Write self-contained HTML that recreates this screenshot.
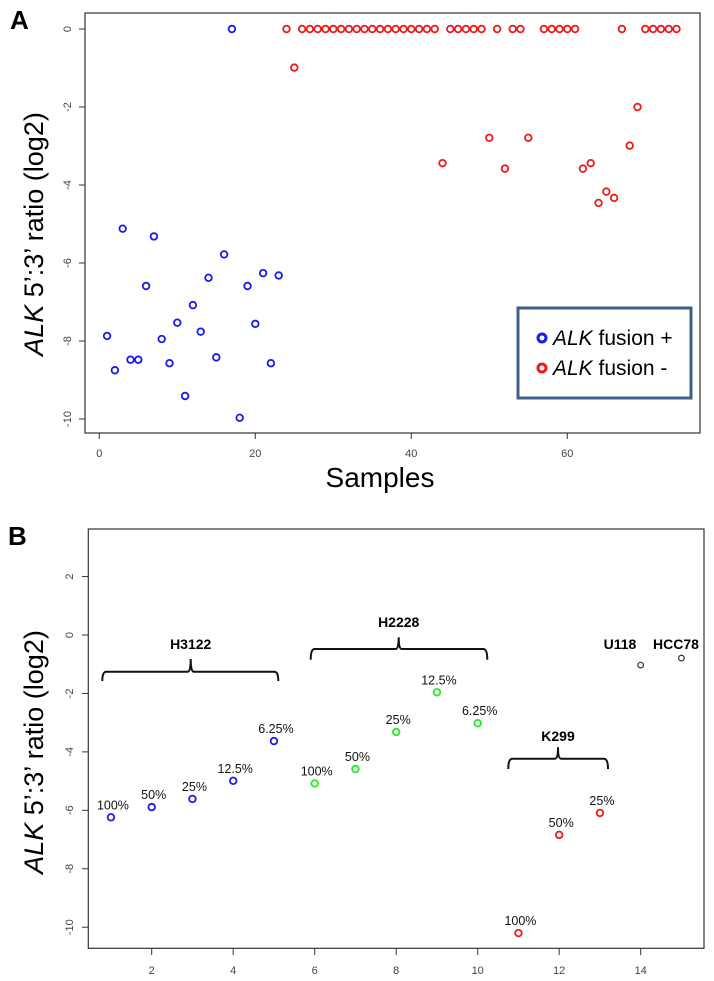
<!DOCTYPE html>
<html><head><meta charset="utf-8"><style>
html,body{margin:0;padding:0;background:#fff;width:714px;height:981px;overflow:hidden}
svg{display:block}
</style></head><body>
<svg id="fig" width="714" height="981" xmlns="http://www.w3.org/2000/svg" font-family="Liberation Sans, sans-serif"></svg>
<script>
// Panel A data
const aPosX = [1,2,3,4,5,6,7,8,9,10,11,12,13,14,15,16,17,18,19,20,21,22,23];
const aPosY = [-7.87,-8.75,-5.12,-8.48,-8.48,-6.59,-5.32,-7.95,-8.57,-7.53,-9.41,-7.08,-7.76,-6.38,-8.42,-5.78,0,-9.97,-6.59,-7.56,-6.26,-8.57,-6.32];
const aNegX = [24,25,26,27,28,29,30,31,32,33,34,35,36,37,38,39,40,41,42,43,44,45,46,47,48,49,50,51,52,53,54,55,57,58,59,60,61,62,63,64,65,66,67,68,69,70,71,72,73,74];
const aNegY = [0,-0.99,0,0,0,0,0,0,0,0,0,0,0,0,0,0,0,0,0,0,-3.44,0,0,0,0,0,-2.79,0,-3.58,0,0,-2.79,0,0,0,0,0,-3.58,-3.44,-4.46,-4.17,-4.33,0,-2.99,-2.0,0,0,0,0,0];
const aYTicks = [0,-2,-4,-6,-8,-10];
const aXTicks = [0,20,40,60];
// Panel B data
const bX = [1,2,3,4,5,6,7,8,9,10,11,12,13,14,15];
const bY = [-6.24,-5.89,-5.61,-4.99,-3.63,-5.08,-4.59,-3.32,-1.96,-3.02,-10.2,-6.84,-6.09,-1.03,-0.79];
const bLabels = ["100%","50%","25%","12.5%","6.25%","100%","50%","25%","12.5%","6.25%","100%","50%","25%","",""];
const bGroup = ["H3122","H3122","H3122","H3122","H3122","H2228","H2228","H2228","H2228","H2228","K299","K299","K299","U118","HCC78"];
const bYTicks = [2,0,-2,-4,-6,-8,-10];
const bXTicks = [2,4,6,8,10,12,14];

const NS = "http://www.w3.org/2000/svg";
const svg = document.getElementById('fig');
function mk(tag, attrs, parent, text){
  const e = document.createElementNS(NS, tag);
  for (const k in attrs) e.setAttribute(k, attrs[k]);
  if (text !== undefined) e.textContent = text;
  (parent||svg).appendChild(e);
  return e;
}
// scales
const axA = v => 99.3 + v*7.8;
const ayA = v => 29 - v*39;
const axB = v => 70.2 + v*40.75;
const ayB = v => 635 - v*29.22;

// ===== Panel A =====
const gA = mk('g', {});


let t = mk('text', {x:10, y:29, 'font-size':26, 'font-weight':'bold'}, gA, 'A');


let r = mk('rect', {x:85, y:13, width:615, height:420, fill:'none', stroke:'#333', 'stroke-width':1.2}, gA);


aYTicks.forEach(v => {
  const y = ayA(v);
  mk('line', {x1:79, y1:y, x2:85, y2:y, stroke:'#333'}, gA);
  const tl = mk('text', {x:0, y:0, 'font-size':11, fill:'#444', 'text-anchor':'middle', transform:`translate(71,${y}) rotate(-90)`}, gA, String(v));
  
  
});
aXTicks.forEach(v => {
  const x = axA(v);
  mk('line', {x1:x, y1:433, x2:x, y2:439, stroke:'#333'}, gA);
  const tl = mk('text', {x:x, y:457, 'font-size':11, fill:'#444', 'text-anchor':'middle'}, gA, String(v));
  
  
});
aPosX.forEach((v,i) => {
  const c = mk('circle', {cx:axA(v), cy:ayA(aPosY[i]), r:3.3, fill:'none', stroke:'#1a1aee', 'stroke-width':1.8}, gA);
  
  
});
aNegX.forEach((v,i) => {
  const c = mk('circle', {cx:axA(v), cy:ayA(aNegY[i]), r:3.3, fill:'none', stroke:'#ee1a1a', 'stroke-width':1.8}, gA);
  
  
});
t = mk('text', {x:0, y:0, 'font-size':27, 'text-anchor':'middle', transform:'translate(43,234) rotate(-90)'}, gA);


mk('tspan', {'font-style':'italic'}, t, 'ALK');
mk('tspan', {}, t, ' 5\u2019:3\u2019 ratio (log2)');
t = mk('text', {x:380, y:487, 'font-size':28, 'text-anchor':'middle'}, gA, 'Samples');


// legend
const lg = mk('g', {}, gA);


mk('rect', {x:518, y:308, width:173, height:90, fill:'#fff', stroke:'#3f5f88', 'stroke-width':3}, lg);
[['#1a1aee','fusion +',338],['#ee1a1a','fusion -',368]].forEach(([col,txt,y]) => {
  const e = mk('g', {}, lg);
  
  
  mk('circle', {cx:542, cy:y, r:4, fill:'none', stroke:col, 'stroke-width':3}, e);
  const tt = mk('text', {x:553, y:y+7, 'font-size':21}, e);
  mk('tspan', {'font-style':'italic'}, tt, 'ALK');
  mk('tspan', {}, tt, ' ' + txt);
});

// ===== Panel B =====
const gB = mk('g', {});


t = mk('text', {x:8, y:545, 'font-size':26, 'font-weight':'bold'}, gB, 'B');


r = mk('rect', {x:88.3, y:529, width:615.7, height:419.3, fill:'none', stroke:'#333', 'stroke-width':1.2}, gB);


bYTicks.forEach(v => {
  const y = ayB(v);
  mk('line', {x1:82, y1:y, x2:88.3, y2:y, stroke:'#333'}, gB);
  const tl = mk('text', {x:0, y:0, 'font-size':11, fill:'#444', 'text-anchor':'middle', transform:`translate(73,${y}) rotate(-90)`}, gB, String(v));
  
  
});
bXTicks.forEach(v => {
  const x = axB(v);
  mk('line', {x1:x, y1:948.3, x2:x, y2:955, stroke:'#333'}, gB);
  const tl = mk('text', {x:x, y:974, 'font-size':11, fill:'#444', 'text-anchor':'middle'}, gB, String(v));
  
  
});
const colOf = {H3122:'#1a1aee', H2228:'#22ee22', K299:'#ee1a1a', U118:'#333', HCC78:'#333'};
bX.forEach((v,i) => {
  const g = bGroup[i];
  const black = (g === 'U118' || g === 'HCC78');
  const c = mk('circle', {cx:axB(v), cy:ayB(bY[i]), r:black?2.8:3.3, fill:'none', stroke:colOf[g], 'stroke-width':black?1.2:1.8}, gB);
  
  
  if (bLabels[i]) {
    const l = mk('text', {x:axB(v)+2, y:ayB(bY[i])-8, 'font-size':12.5, 'text-anchor':'middle', fill:'#111'}, gB, bLabels[i]);
    
    
  }
});
function bracket(x1, x2, xm, yh, yEnd, yPeak, label, ly){
  const g = mk('g', {}, gB);
  
  
  mk('path', {d:`M${x1},${yEnd} Q${x1},${yh} ${x1+4},${yh} L${xm-3},${yh} Q${xm},${yh} ${xm},${yPeak} Q${xm},${yh} ${xm+3},${yh} L${x2-4},${yh} Q${x2},${yh} ${x2},${yEnd}`, fill:'none', stroke:'#111', 'stroke-width':2}, g);
  mk('text', {x:xm, y:ly, 'font-size':14, 'font-weight':'bold', 'text-anchor':'middle'}, g, label);
}
bracket(102.3, 278.3, 190.7, 671.7, 681, 659, 'H3122', 649);
bracket(310.7, 487.3, 398.7, 649, 659.7, 637.3, 'H2228', 627);
bracket(508.3, 608, 558, 758.7, 769, 747.3, 'K299', 741);
t = mk('text', {x:620, y:649, 'font-size':14, 'font-weight':'bold', 'text-anchor':'middle'}, gB, 'U118');


t = mk('text', {x:676, y:649, 'font-size':14, 'font-weight':'bold', 'text-anchor':'middle'}, gB, 'HCC78');


t = mk('text', {x:0, y:0, 'font-size':27, 'text-anchor':'middle', transform:'translate(43,752) rotate(-90)'}, gB);


mk('tspan', {'font-style':'italic'}, t, 'ALK');
mk('tspan', {}, t, ' 5\u2019:3\u2019 ratio (log2)');
</script>
</body></html>
